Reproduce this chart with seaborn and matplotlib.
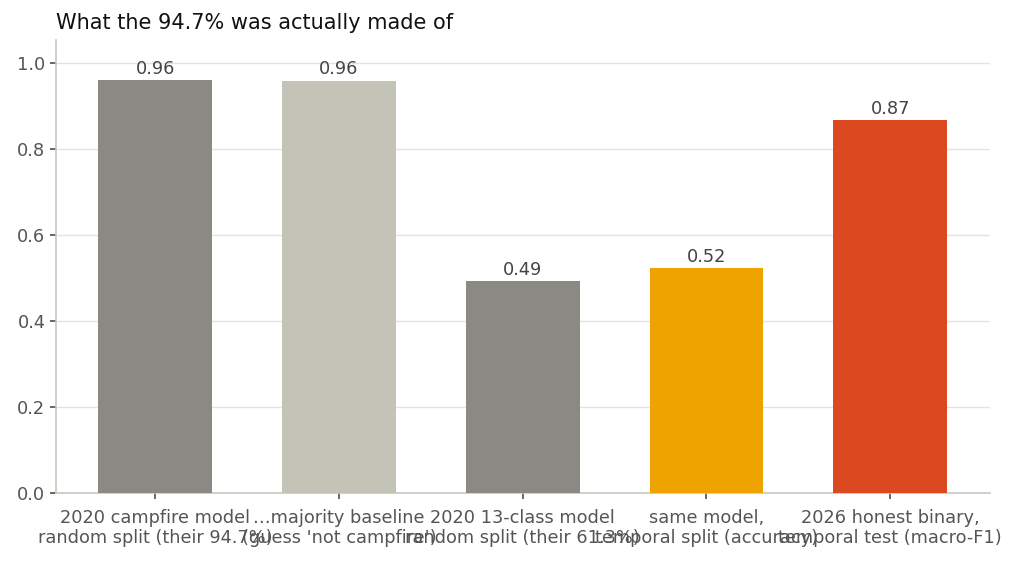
import matplotlib
matplotlib.use("Agg")
import matplotlib.pyplot as plt
import seaborn as sns
import pandas as pd

categories = [
    "2020 campfire model\nrandom split (their 94.7%)",
    "…majority baseline\n(guess 'not campfire')",
    "2020 13-class model\nrandom split (their 61.3%)",
    "same model,\ntemporal split (accuracy)",
    "2026 honest binary,\ntemporal test (macro-F1)",
]
values = [0.960, 0.958, 0.493, 0.523, 0.867]
value_labels = ["0.96", "0.96", "0.49", "0.52", "0.87"]
colors = ["#8A8984", "#C3C3B7", "#8A8984", "#EEA300", "#DC4820"]

sns.set_theme(style="white")
plt.rcParams['font.family'] = ['DejaVu Sans']

df = pd.DataFrame({"cat": categories, "val": values})

fig, ax = plt.subplots(figsize=(10.16, 5.65), dpi=100)
fig.subplots_adjust(left=0.055, right=0.974, top=0.929, bottom=0.127)

sns.barplot(data=df, x="cat", y="val", hue="cat", palette=colors,
            legend=False, width=0.62, saturation=1, ax=ax, zorder=3,
            linewidth=0)

for i, (v, lab) in enumerate(zip(values, value_labels)):
    ax.text(i, v + 0.006, lab, ha="center", va="bottom", fontsize=12.8, color="#444444")

ax.set_xlim(-0.541, 4.541)
ax.set_ylim(0, 1.053)
ax.set_yticks([0.0, 0.2, 0.4, 0.6, 0.8, 1.0])
ax.set_yticklabels(["0.0", "0.2", "0.4", "0.6", "0.8", "1.0"])
ax.set_xlabel("")
ax.set_ylabel("")
ax.yaxis.grid(True, color="#E3E3E3", linewidth=1, zorder=0)
ax.set_axisbelow(True)
for s in ["top", "right"]:
    ax.spines[s].set_visible(False)
for s in ["left", "bottom"]:
    ax.spines[s].set_color("#C8C8BC")
    ax.spines[s].set_linewidth(1.2)
ax.tick_params(axis="both", which="both", length=4, color="#555555", labelcolor="#555555",
               labelsize=12.8, left=True, bottom=True)
ax.tick_params(axis="x", pad=7)
ax.set_title("What the 94.7% was actually made of", loc="left", fontsize=15,
             color="#111111", pad=8)

fig.savefig("out.png", dpi=100)
